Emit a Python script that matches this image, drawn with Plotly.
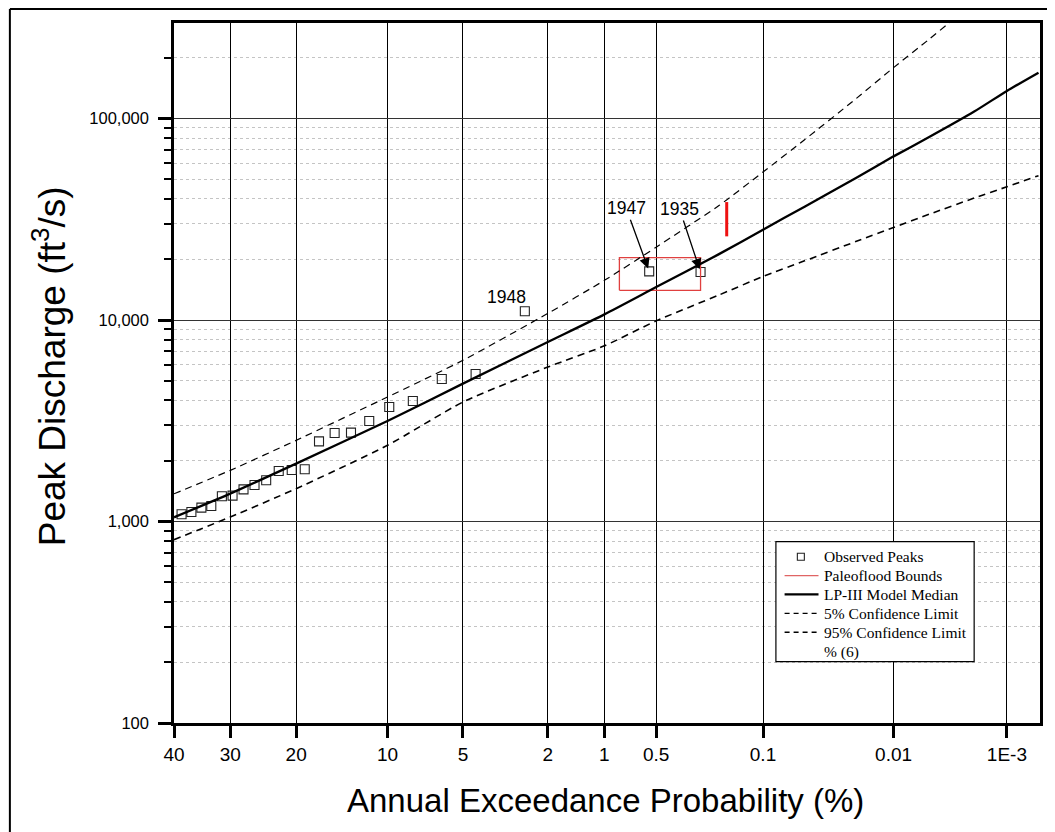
import math
import plotly.graph_objects as go
from statistics import NormalDist

# ---------------- data ----------------
tick_aep = [40, 30, 20, 10, 5, 2, 1, 0.5, 0.1, 0.01, 0.001]
tick_labels = ["40", "30", "20", "10", "5", "2", "1", "0.5", "0.1", "0.01", "1E-3"]

obs_aep = [38.6, 36.8, 35.0, 33.25, 31.42, 29.62, 27.82, 26.07, 24.28, 22.43, 20.6, 18.86,
           17.06, 15.22, 13.44, 11.63, 9.85, 8.02, 6.14, 4.40, 2.60, 0.551, 0.264]
obs_q = [1086, 1115, 1172, 1194, 1334, 1344, 1444, 1518, 1602, 1781, 1802, 1816,
         2500, 2749, 2762, 3154, 3700, 3963, 5096, 5395, 11050, 17450, 17310]

curve_aep = [40, 30, 20, 10, 5, 2, 1, 0.5, 0.2, 0.1, 0.05, 0.02, 0.01, 0.005, 0.002, 0.001, 0.0005]
median_q = [1049, 1376, 1938, 3154, 4835, 7780, 10670, 14580, 21240, 28100, 36540, 50850,
            64930, 80940, 108300, 137200, 169000]
upper_aep = [40, 30, 20, 10, 5, 2, 1, 0.5, 0.2, 0.1, 0.05, 0.02, 0.01, 0.005, 0.003]
upper_q = [1373, 1795, 2529, 4149, 6310, 10790, 15740, 23000, 37010, 54280, 78490, 126000,
           179000, 247700, 314000]
lower_q = [813, 1053, 1456, 2389, 3918, 5844, 7447, 9908, 13310, 16460, 19670, 24580,
           28820, 33500, 40320, 45870, 52060]

paleo_box_aep = [0.823, 0.264]
paleo_box_q = [14040, 20400]
paleo_bar_aep = 0.1776
paleo_bar_q = [26030, 38510]

labels_yr = ["1948", "1947", "1935"]
labels_idx = [20, 21, 22]

legend_names = ["Observed Peaks", "Paleoflood Bounds", "LP-III Model Median",
                "5% Confidence Limit", "95% Confidence Limit", "% (6)"]

# ---------------- helpers ----------------
nd = NormalDist()


def zq(p):
    return nd.inv_cdf(1 - p / 100.0)


def zs(ps):
    return [zq(p) for p in ps]


AX_FONT = "Liberation Sans, Arial, sans-serif"
SERIF = "Liberation Serif, Times New Roman, serif"

# plot area in page pixels (page has an 8px body margin)
PL, PR, PT, PB = 174.0, 1042.0, 23.0, 723.0
PW, PH = PR - PL, PB - PT


def px(xp):
    return (xp - PL) / PW


def py(yp):
    return (PB - yp) / PH


RED_LEG = "#e06464"
RED = "#e0403f"
RED_BAR = "#ee1111"
DASH = "7px,5px"

fig = go.Figure()

fig.add_trace(go.Scatter(
    x=zs(obs_aep), y=obs_q, mode="markers", name=legend_names[0], showlegend=False,
    marker=dict(symbol="square-open", size=9, color="#222", line=dict(width=1.1)),
    cliponaxis=False))

bx = zs(paleo_box_aep)
fig.add_trace(go.Scatter(
    x=[bx[0], bx[1], bx[1], bx[0], bx[0]],
    y=[paleo_box_q[0], paleo_box_q[0], paleo_box_q[1], paleo_box_q[1], paleo_box_q[0]],
    mode="lines", name=legend_names[1], showlegend=False,
    line=dict(color=RED, width=1.3)))
fig.add_trace(go.Scatter(
    x=[zq(paleo_bar_aep)] * 2, y=paleo_bar_q, mode="lines", showlegend=False,
    line=dict(color=RED_BAR, width=3)))

fig.add_trace(go.Scatter(
    x=zs(curve_aep), y=median_q, mode="lines", name=legend_names[2], showlegend=False,
    line=dict(color="black", width=2.3, shape="spline", smoothing=0.6)))
fig.add_trace(go.Scatter(
    x=zs(upper_aep), y=upper_q, mode="lines", name=legend_names[3], showlegend=False,
    line=dict(color="black", width=1.2, dash=DASH, shape="spline", smoothing=0.6)))
fig.add_trace(go.Scatter(
    x=zs(curve_aep), y=lower_q, mode="lines", name=legend_names[4], showlegend=False,
    line=dict(color="black", width=1.6, dash=DASH, shape="spline", smoothing=0.6)))

# year labels (annotation y on a log axis is given in log10 units)
i48 = labels_idx[0]
fig.add_annotation(x=zq(obs_aep[i48]), y=math.log10(obs_q[i48]), text=labels_yr[0],
                   showarrow=False, xshift=-18, yshift=14,
                   font=dict(family=AX_FONT, size=17.5, color="black"))
for lab, idx, ax in zip(labels_yr[1:], labels_idx[1:], [-23, -21]):
    fig.add_annotation(x=zq(obs_aep[idx]), y=math.log10(obs_q[idx]), text=lab,
                       showarrow=True, ax=ax, ay=-63, arrowhead=2, arrowsize=1.6,
                       arrowwidth=1.3, arrowcolor="black", standoff=3,
                       font=dict(family=AX_FONT, size=17.5, color="black"))

# axis titles
fig.add_annotation(xref="paper", yref="paper", x=px(606), y=py(800), xanchor="center",
                   yanchor="middle", showarrow=False,
                   text="Annual Exceedance Probability (%)",
                   font=dict(family=AX_FONT, size=33, color="black"))
fig.add_annotation(xref="paper", yref="paper", x=px(49), y=py(366), xanchor="center",
                   yanchor="middle", showarrow=False, textangle=-90,
                   text="Peak Discharge (ft<sup>3</sup>/s)",
                   font=dict(family=AX_FONT, size=37, color="black"))

# legend (box, keys and labels)
LB = dict(x0=777.3, x1=976.0, y0=541.7, y1=661.7)
rows_y = [556.7, 575.7, 594.3, 613.3, 632.3, 651.7]
fig.add_shape(type="rect", xref="paper", yref="paper", x0=px(LB["x0"]), x1=px(LB["x1"]),
              y0=py(LB["y1"]), y1=py(LB["y0"]), line=dict(color="black", width=1.2),
              fillcolor="white", layer="above")
key_x0, key_x1, key_xc = 786.0, 820.0, 802.3
fig.add_shape(type="rect", xref="paper", yref="paper", xsizemode="pixel", ysizemode="pixel",
              xanchor=px(key_xc), yanchor=py(rows_y[0]), x0=-3.5, x1=3.5, y0=-3.5, y1=3.5,
              line=dict(color="#222", width=1.1), layer="above")
key_styles = [dict(color=RED_LEG, width=1.3),
              dict(color="black", width=2.3),
              dict(color="black", width=1.2, dash="5px,4px"),
              dict(color="black", width=1.6, dash="5px,4px")]
for ry, st in zip(rows_y[1:5], key_styles):
    fig.add_shape(type="line", xref="paper", yref="paper", x0=px(key_x0), x1=px(key_x1),
                  y0=py(ry), y1=py(ry), line=st, layer="above")
for ry, name in zip(rows_y, legend_names):
    fig.add_annotation(xref="paper", yref="paper", x=px(823.3), y=py(ry), text=name,
                       xanchor="left", yanchor="middle", showarrow=False,
                       font=dict(family=SERIF, size=15.5, color="black"))

# outer frame (top and left)
fig.add_shape(type="line", xref="paper", yref="paper", x0=px(9.5), x1=px(1055),
              y0=py(9), y1=py(9), line=dict(color="black", width=2))
fig.add_shape(type="line", xref="paper", yref="paper", x0=px(9.5), x1=px(9.5),
              y0=py(9), y1=py(832), line=dict(color="black", width=2))

fig.update_xaxes(
    range=[zq(40), 4.4244], tickmode="array", tickvals=zs(tick_aep), ticktext=tick_labels,
    showline=True, linewidth=2.5, linecolor="black", mirror=True,
    ticks="outside", ticklen=12, tickwidth=2.5, tickcolor="black",
    showgrid=True, gridcolor="black", gridwidth=1, zeroline=False,
    tickfont=dict(family=AX_FONT, size=19, color="black"))
fig.update_yaxes(
    type="log", range=[2, 5.4744], dtick=1, tickformat=",d",
    showline=True, linewidth=2.5, linecolor="black", mirror=True,
    ticks="outside", ticklen=13, tickwidth=2.5, tickcolor="black",
    showgrid=True, gridcolor="#333", gridwidth=1, zeroline=False,
    ticklabelstandoff=6,
    minor=dict(ticks="outside", ticklen=7, tickwidth=2, tickcolor="black",
               showgrid=True, gridcolor="#c4c4c4", gridwidth=1, griddash="dot"),
    tickfont=dict(family=AX_FONT, size=16.5, color="black"))

fig.update_layout(
    width=1047, height=824, margin=dict(l=166, r=13, t=15, b=109),
    paper_bgcolor="white", plot_bgcolor="white", showlegend=False,
)

fig.write_html("out.html")
